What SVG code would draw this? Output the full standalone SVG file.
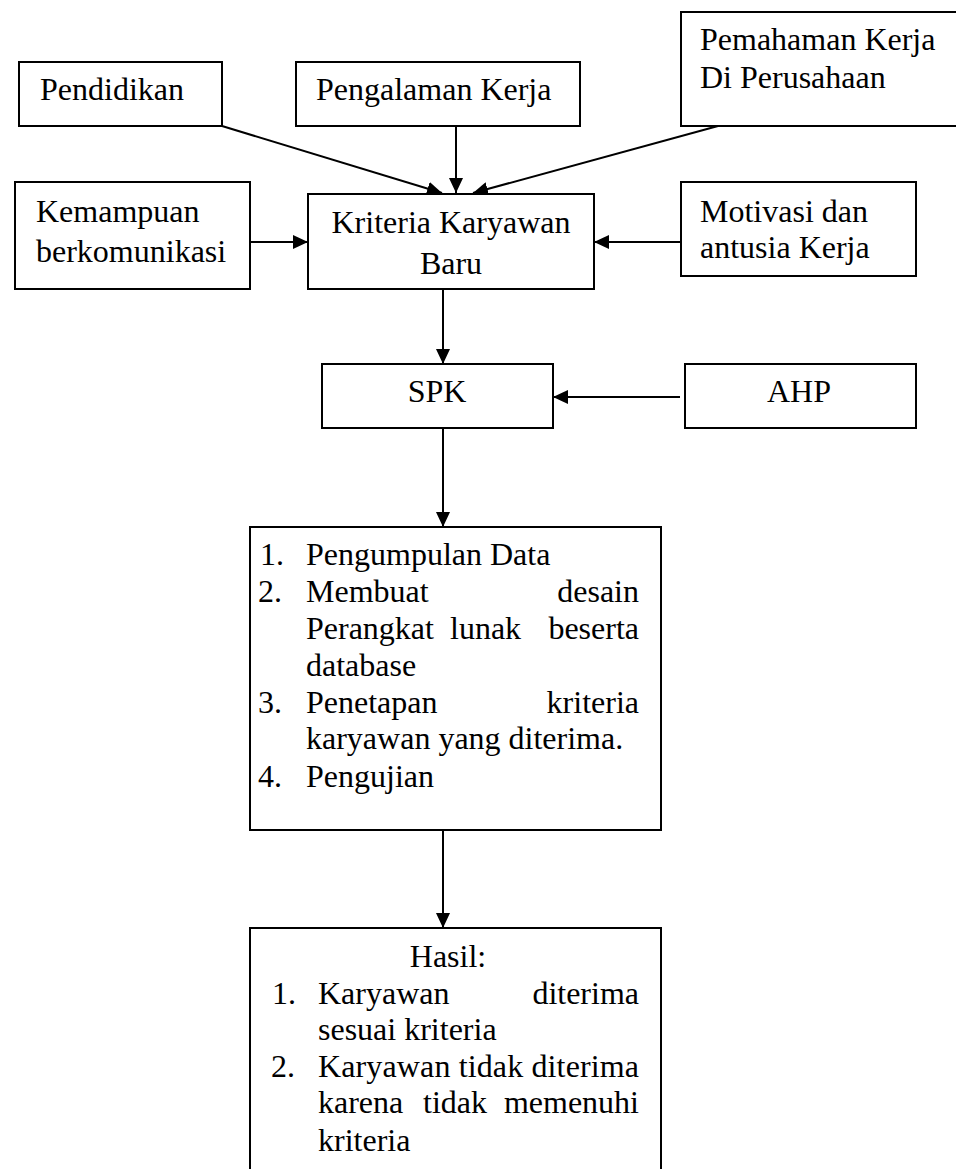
<svg xmlns="http://www.w3.org/2000/svg" width="956" height="1169" viewBox="0 0 956 1169">
<style>
.box{fill:#fff;stroke:#000;stroke-width:2}
.t{font-family:"Liberation Serif","Times New Roman",serif;font-size:32px;fill:#000}
.c{stroke:#000;stroke-width:2;fill:none;marker-end:url(#ah)}
</style>
<defs>
<marker id="ah" markerWidth="15" markerHeight="14" refX="15" refY="7" orient="auto" markerUnits="userSpaceOnUse">
<path d="M0,0 L15,7 L0,14 Z" fill="#000"/>
</marker>
</defs>
<rect width="956" height="1169" fill="#fff"/>
<g id="connectors">
<line class="c" x1="222" y1="126" x2="442" y2="193"/>
<line class="c" x1="456" y1="126" x2="456" y2="193"/>
<line class="c" x1="718" y1="126" x2="473" y2="193"/>
<line class="c" x1="250" y1="242" x2="308" y2="242"/>
<line class="c" x1="681" y1="242" x2="594" y2="242"/>
<line class="c" x1="443" y1="289" x2="443" y2="364"/>
<line class="c" x1="680" y1="397" x2="553" y2="397"/>
<line class="c" x1="443" y1="428" x2="443" y2="527"/>
<line class="c" x1="443" y1="830" x2="443" y2="928"/>
</g>
<g id="pendidikan">
<rect class="box" x="19" y="62" width="203" height="64"/>
<text class="t" x="40" y="100">Pendidikan</text>
</g>
<g id="pengalaman">
<rect class="box" x="296" y="62" width="284" height="64"/>
<text class="t" x="316" y="100">Pengalaman Kerja</text>
</g>
<g id="pemahaman">
<rect class="box" x="681" y="12" width="290" height="114"/>
<text class="t" x="700" y="50">Pemahaman Kerja</text>
<text class="t" x="700" y="88">Di Perusahaan</text>
</g>
<g id="kemampuan">
<rect class="box" x="15" y="182" width="235" height="107"/>
<text class="t" x="36" y="222">Kemampuan</text>
<text class="t" x="36" y="262">berkomunikasi</text>
</g>
<g id="kriteria">
<rect class="box" x="308" y="194" width="286" height="95"/>
<text class="t" x="451" y="233" text-anchor="middle">Kriteria Karyawan</text>
<text class="t" x="451" y="274" text-anchor="middle">Baru</text>
</g>
<g id="motivasi">
<rect class="box" x="681" y="182" width="235" height="94"/>
<text class="t" x="700" y="222">Motivasi dan</text>
<text class="t" x="700" y="258">antusia Kerja</text>
</g>
<g id="spk">
<rect class="box" x="322" y="364" width="231" height="64"/>
<text class="t" x="437" y="402" text-anchor="middle">SPK</text>
</g>
<g id="ahp">
<rect class="box" x="685" y="364" width="231" height="64"/>
<text class="t" x="799" y="402" text-anchor="middle">AHP</text>
</g>
<g id="proses">
<rect class="box" x="250" y="527" width="411" height="303"/>
<text class="t" x="260" y="565">1.</text>
<text class="t" x="306" y="565">Pengumpulan Data</text>
<text class="t" x="258" y="602">2.</text>
<text class="t" x="306" y="602">Membuat</text>
<text class="t" x="639" y="602" text-anchor="end">desain</text>
<text class="t" x="306" y="639">Perangkat</text>
<text class="t" x="450" y="639">lunak</text>
<text class="t" x="639" y="639" text-anchor="end">beserta</text>
<text class="t" x="306" y="676">database</text>
<text class="t" x="258" y="713">3.</text>
<text class="t" x="306" y="713">Penetapan</text>
<text class="t" x="639" y="713" text-anchor="end">kriteria</text>
<text class="t" x="306" y="749">karyawan yang diterima.</text>
<text class="t" x="258" y="787">4.</text>
<text class="t" x="306" y="787">Pengujian</text>
</g>
<g id="hasil">
<rect class="box" x="250" y="928" width="411" height="260"/>
<text class="t" x="448" y="967" text-anchor="middle">Hasil:</text>
<text class="t" x="272" y="1004">1.</text>
<text class="t" x="318" y="1004">Karyawan</text>
<text class="t" x="639" y="1004" text-anchor="end">diterima</text>
<text class="t" x="318" y="1040">sesuai kriteria</text>
<text class="t" x="271" y="1077">2.</text>
<text class="t" x="318" y="1077" textLength="321" lengthAdjust="spacing">Karyawan tidak diterima</text>
<text class="t" x="318" y="1113">karena</text>
<text class="t" x="423" y="1113">tidak</text>
<text class="t" x="639" y="1113" text-anchor="end">memenuhi</text>
<text class="t" x="318" y="1151">kriteria</text>
</g>
</svg>
